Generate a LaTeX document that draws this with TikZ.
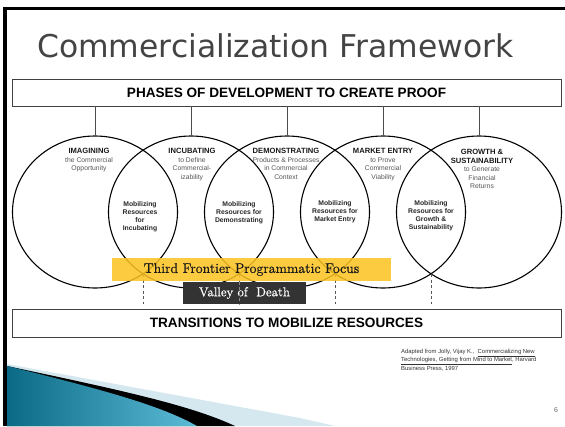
\documentclass[tikz,border=0pt]{standalone}
\usepackage{fontspec}
\newfontfamily\arialfont{Liberation Sans}
\newfontfamily\titlefont{DejaVu Sans}
\newfontfamily\bannerfont[FakeBold=0.8]{Latin Modern Roman}
\usepackage{tikz}
\usetikzlibrary{positioning, calc, shapes.geometric}
\usepackage{xcolor}

\definecolor{titlegray}{HTML}{444444}
\definecolor{subgray}{HTML}{555555}
\definecolor{focusyellow}{HTML}{FCC21F}
\definecolor{valleygray}{HTML}{333333}
\definecolor{tealdark}{HTML}{0B6A85}
\definecolor{teallight}{HTML}{5CBBD6}
\definecolor{paleblue}{HTML}{D5E8EF}

\newcommand{\phasehead}[1]{{\color{black!90}\bfseries\fontsize{7.6}{8.6}\selectfont #1}}

\begin{document}
\begin{tikzpicture}[x=1pt, y=-1pt, % 1pt = 1px, y 向下
  phase/.style={draw=black, line width=1.1pt, ellipse, minimum width=165pt, minimum height=152pt, inner sep=0pt},
  head/.style={align=center, inner sep=0pt, anchor=north, font=\arialfont\fontsize{6.8}{8.6}\selectfont, text=subgray},
  lens/.style={align=center, inner sep=0pt, anchor=north, font=\arialfont\bfseries\fontsize{6.8}{8}\selectfont, text=black!85},
  bar/.style={draw=black!75, line width=0.9pt, fill=white, inner sep=0pt, minimum width=549pt, font=\arialfont\bfseries\fontsize{13.6}{16}\selectfont}
]
\useasboundingbox (0,0) rectangle (565,426);

% slide frame and corner swoosh
\fill[black] (3,7) rectangle (7,426);
\fill[black] (3,7) rectangle (565,9.5);
\fill[paleblue] (7,364) -- (300,418) -- (335,426) -- (7,426) -- cycle;
\fill[black] (7,366) .. controls (120,390) and (190,405) .. (235,426) -- (7,426) -- cycle;
\shade[left color=tealdark, right color=teallight] (7,366) .. controls (100,389) and (160,405) .. (197,426) -- (7,426) -- cycle;

\node[anchor=base west, inner sep=0pt, font=\titlefont\fontsize{31.4}{36}\selectfont, text=titlegray] (title) at (37,57) {Commercialization Framework};

\node[bar, minimum height=27pt] (phases) at (286.5,92.5) {PHASES OF DEVELOPMENT TO CREATE PROOF};
\node[bar, minimum height=28pt] (transitions) at (286.5,323) {TRANSITIONS TO MOBILIZE RESOURCES};

% five phases
\foreach \i in {1,...,5} {
  \node[phase] (c\i) at ({95+96*(\i-1)},212) {};
  \draw[black!70, line width=0.8pt] (phases.south -| c\i) -- (c\i.north);
}

\node[head] (imagining) at (89,148) {\phasehead{IMAGINING}\\the Commercial\\Opportunity};
\node[head] (incubating) at (192,148) {\phasehead{INCUBATING}\\to Define\\Commercial-\\izability};
\node[head] (demonstrating) at (286,148) {\phasehead{DEMONSTRATING}\\Products \& Processes\\in Commercial\\Context};
\node[head] (marketentry) at (383,148) {\phasehead{MARKET ENTRY}\\to Prove\\Commercial\\Viability};
\node[head] (growth) at (482,149) {\phasehead{GROWTH \&}\\\phasehead{SUSTAINABILITY}\\to Generate\\Financial\\Returns};

\node[lens] (mob1) at (140,201) {Mobilizing\\Resources\\for\\Incubating};
\node[lens] (mob2) at (239,201.5) {Mobilizing\\Resources for\\Demonstrating};
\node[lens] (mob3) at (335,200.5) {Mobilizing\\Resources for\\Market Entry};
\node[lens] (mob4) at (431,200.5) {Mobilizing\\Resources for\\Growth \&\\Sustainability};

% lower crossings of neighbouring circles
\foreach \i [evaluate=\i as \j using int(\i+1)] in {1,...,4}
  \coordinate (ix\i) at ($(c\i.center)!0.5!(c\j.center)+(0,62)$);

\node[minimum width=123pt, minimum height=22pt, inner sep=0pt] (valley) at (244.5,293) {};
\foreach \i in {1,...,4}
  \draw[black!65, line width=0.8pt, dash pattern=on 3pt off 2.5pt] (ix\i) -- (ix\i |- valley.south);

\node[fill=focusyellow, fill opacity=0.85, text opacity=1, text=black!90, minimum width=279pt, minimum height=23pt, inner sep=0pt, font=\bannerfont\fontsize{14}{16}\selectfont] (focus) at (251.5,269.5) {Third Frontier Programmatic Focus};
\node[fill=valleygray, text=white, minimum width=123pt, minimum height=22pt, inner sep=0pt, font=\bannerfont\fontsize{13}{15}\selectfont] at (valley) {Valley of \ Death};
\draw[black!45, line width=0.8pt, dash pattern=on 3pt off 2.5pt] (valley.north -| ix2) -- (valley.south -| ix2);

\node[anchor=north west, align=left, inner sep=0pt, text=black!80, font=\arialfont\fontsize{5.9}{6.4}\selectfont] (source) at (401,349)
  {Adapted from Jolly, Vijay K., \ \underline{Commercializing New}\\\underline{Technologies, Getting from Mind to Market}, Harvard\\Business Press, 1997};
\node[inner sep=0pt, text=black!60, font=\arialfont\fontsize{7}{8}\selectfont] (pageno) at (556,410) {6};

\end{tikzpicture}
\end{document}
